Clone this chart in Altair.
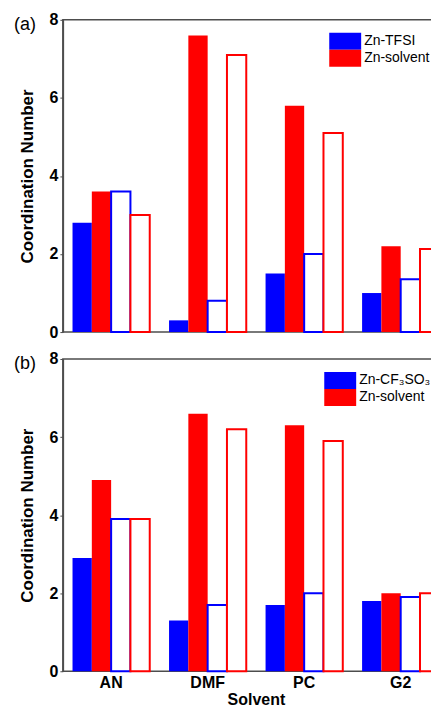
import altair as alt
import pandas as pd

solvents = ["AN", "DMF", "PC", "G2"]
slots = [0, 1, 2, 3]

# panel (a): Zn-TFSI
a_anion_filled = [2.8, 0.3, 1.5, 1.0]
a_solvent_filled = [3.6, 7.6, 5.8, 2.2]
a_anion_open = [3.6, 0.8, 2.0, 1.35]
a_solvent_open = [3.0, 7.1, 5.1, 2.13]

# panel (b): Zn-CF3SO3
b_anion_filled = [2.9, 1.3, 1.7, 1.8]
b_solvent_filled = [4.9, 6.6, 6.3, 2.0]
b_anion_open = [3.9, 1.7, 2.0, 1.9]
b_solvent_open = [3.9, 6.2, 5.9, 2.0]

anion_a = "Zn-TFSI"
anion_b = "Zn-CF\u2083SO\u2083"
solvent_name = "Zn-solvent"
panel_labels = ["(a)", "(b)"]
y_ticks = [0, 2, 4, 6, 8]

BLUE = "#0000ff"
RED = "#ff0000"
FONT = "Liberation Sans"


def make_df(anion, af, sf, ao, so):
    rows = []
    for i, s in enumerate(solvents):
        rows.append(dict(solvent=s, species=anion, slot=0, filled=True, value=af[i]))
        rows.append(dict(solvent=s, species=solvent_name, slot=1, filled=True, value=sf[i]))
        rows.append(dict(solvent=s, species=anion, slot=2, filled=False, value=ao[i]))
        rows.append(dict(solvent=s, species=solvent_name, slot=3, filled=False, value=so[i]))
    return pd.DataFrame(rows)


def panel(df, anion, label, bottom, legend_x):
    xscale = alt.Scale(domain=solvents, range=[0, 387], paddingInner=0.2, paddingOuter=0.1)
    if bottom:
        xaxis = alt.Axis(title="Solvent", domain=False, ticks=False, labelAngle=0,
                         labelPadding=3, labelFontSize=16, labelFontWeight="bold",
                         labelFont=FONT, labelColor="black",
                         titleFontSize=16, titleFontWeight="bold", titleFont=FONT,
                         titlePadding=1, titleColor="black")
    else:
        xaxis = None
    x = alt.X("solvent:N", sort=solvents, scale=xscale, axis=xaxis)
    xo = alt.XOffset("slot:O", scale=alt.Scale(domain=slots, paddingInner=0, paddingOuter=0))
    y = alt.Y("value:Q", scale=alt.Scale(domain=[0, 8], nice=False),
              axis=alt.Axis(values=y_ticks, title="Coordination Number", grid=False,
                            tickSize=3, labelPadding=2, labelFontSize=16,
                            labelFontWeight="bold", labelFont=FONT, labelColor="black",
                            domainColor="#4d4d4d", domainWidth=1.5, tickColor="#4d4d4d",
                            titleFontSize=17, titleFontWeight="bold", titleFont=FONT,
                            titlePadding=13, titleColor="black"))
    cscale = alt.Scale(domain=[anion, solvent_name], range=[BLUE, RED])
    base = alt.Chart(df)
    filled = base.transform_filter("datum.filled").mark_bar(strokeWidth=0).encode(
        x=x, xOffset=xo, y=y,
        color=alt.Color("species:N", scale=cscale, sort=[anion, solvent_name],
                        legend=alt.Legend(title=None, orient="none", legendX=legend_x, legendY=13,
                                          symbolType="M-1.882,-1H1.882V1H-1.882Z", symbolSize=289,
                                          symbolStrokeWidth=0, symbolOpacity=1,
                                          labelFontSize=14, labelFont=FONT, labelColor="black",
                                          labelOffset=10.5, rowPadding=0, padding=0)))
    hollow = base.transform_filter("!datum.filled").mark_bar(fill="white", strokeWidth=2).encode(
        x=x, xOffset=xo, y=y,
        stroke=alt.Stroke("species:N", scale=cscale, legend=None))
    lab = alt.Chart(pd.DataFrame({"label": [label]})).mark_text(
        align="left", baseline="middle", fontSize=18, font=FONT, color="black"
    ).encode(text="label:N", x=alt.value(-49), y=alt.value(5))
    return alt.layer(filled, hollow, lab).properties(width=377, height=313)


top = panel(make_df(anion_a, a_anion_filled, a_solvent_filled, a_anion_open, a_solvent_open),
            anion_a, panel_labels[0], False, 274.5)
bot = panel(make_df(anion_b, b_anion_filled, b_solvent_filled, b_anion_open, b_solvent_open),
            anion_b, panel_labels[1], True, 269.5)

chart = alt.vconcat(top, bot, spacing=27, bounds="flush").resolve_scale(
    color="independent", stroke="independent"
).resolve_legend(color="independent").properties(
    padding={"left": 5, "top": 2, "right": -19, "bottom": 0}
).configure_view(stroke="#4d4d4d", strokeWidth=1.5)

chart.save("out.html", embed_options={"renderer": "svg", "actions": False})
